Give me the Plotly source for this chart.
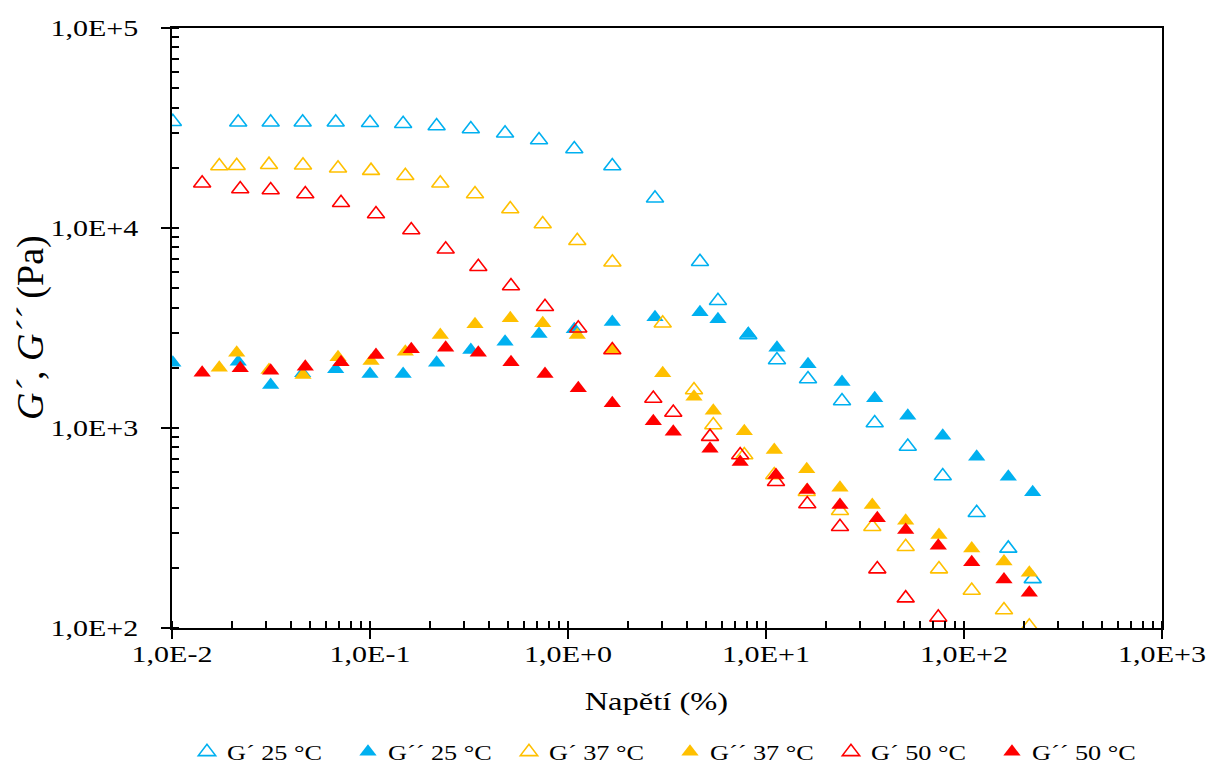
import plotly.graph_objects as go

# ---- data (strain %, modulus Pa) ----
strain_25 = [0.0101, 0.0216, 0.0315, 0.0457, 0.0671, 0.100, 0.147, 0.217, 0.323, 0.481,
             0.714, 1.076, 1.674, 2.75, 4.64, 5.72, 8.14, 11.36, 16.3, 24.2,
             35.4, 52.0, 78.1, 115.9, 167.4, 222.3]
g1_25 = [34000, 33780, 33780, 33780, 33780, 33610, 33230, 32360, 31260, 29760,
         27540, 24830, 20420, 14080, 6785, 4330, 2917, 2188, 1758, 1365,
         1059, 808, 575, 377, 250, 176]
g2_25 = [2121, 2146, 1641, 1880, 1966, 1862, 1862, 2121, 2455, 2701,
         2951, 3116, 3388, 3577, 3789, 3496, 2951, 2521, 2082, 1698,
         1408, 1152, 915, 719, 571, 477]

strain_37 = [0.01733, 0.02122, 0.0309, 0.04588, 0.06894, 0.1012, 0.1508, 0.2265, 0.3391, 0.5111,
             0.7452, 1.114, 1.676, 3.008, 4.329, 5.418, 7.771, 11.01, 16.06, 23.64,
             34.43, 50.76, 74.76, 109.4, 159.2, 213.7]
g1_37 = [20420, 20490, 20730, 20590, 19890, 19350, 18260, 16730, 14790, 12450,
         10470, 8640, 6739, 3338, 1549, 1035, 733, 582, 480, 386,
         321, 255, 197, 154, 123, 102]
g2_37 = [2002, 2380, 1950, 1841, 2257, 2163, 2407, 2917, 3300, 3536,
         3338, 2917, 2455, 1877, 1434, 1220, 963, 776, 622, 503,
         412, 344, 292, 250, 215, 189]

strain_50 = [0.0142, 0.02211, 0.03151, 0.04712, 0.07138, 0.1072, 0.1616, 0.2411, 0.3524, 0.5153,
             0.7652, 1.127, 1.674, 2.697, 3.402, 5.214, 7.407, 11.23, 16.16, 23.64,
             36.49, 50.76, 74.16, 109.4, 159.2, 213.7]
g1_50 = [16730, 15670, 15490, 14790, 13380, 11750, 9772, 7827, 6404, 5129,
         4041, 3152, 2455, 1404, 1195, 905, 733, 539, 417, 321,
         197, 141, 113, None, None, None]
g2_50 = [1890, 1988, 1934, 2025, 2131, 2317, 2475, 2521, 2380, 2131,
         1862, 1579, 1329, 1080, 958, 788, 676, 582, 490, 412,
         354, 309, 258, 213, 175, 150]

x_tickvals = [0.01, 0.1, 1, 10, 100, 1000]
x_ticktext = ["1,0E-2", "1,0E-1", "1,0E+0", "1,0E+1", "1,0E+2", "1,0E+3"]
y_tickvals = [100, 1000, 10000, 100000]
y_ticktext = ["1,0E+2", "1,0E+3", "1,0E+4", "1,0E+5"]

x_title = "Napětí (%)"
y_title = "<i>G´</i>, <i>G´´</i> (Pa)"

BLUE = "#00B0F0"
YELLOW = "#FFC000"
RED = "#FF0000"
FONT = "Liberation Serif"

series = [
    ("G´ 25 °C", strain_25, g1_25, BLUE, True),
    ("G´´ 25 °C", strain_25, g2_25, BLUE, False),
    ("G´ 37 °C", strain_37, g1_37, YELLOW, True),
    ("G´´ 37 °C", strain_37, g2_37, YELLOW, False),
    ("G´ 50 °C", strain_50, g1_50, RED, True),
    ("G´´ 50 °C", strain_50, g2_50, RED, False),
]

fig = go.Figure()
for name, xs, ys, col, is_open in series:
    fig.add_trace(go.Scatter(
        x=xs, y=ys, mode="markers", name=name,
        marker=dict(symbol="triangle-up-open" if is_open else "triangle-up",
                    size=15, color=col, line=dict(color=col, width=1.6 if is_open else 0)),
    ))

# invisible trace for overlay axes (inside halves of the major ticks)
fig.add_trace(go.Scatter(x=[0.01], y=[100], xaxis="x2", yaxis="y2", mode="markers",
                         marker=dict(opacity=0), showlegend=False, hoverinfo="skip"))

axis_common = dict(type="log", showgrid=False, zeroline=False, showline=True,
                   linecolor="black", linewidth=2, mirror=True, automargin=False,
                   ticks="outside", ticklen=9, tickwidth=2, tickcolor="black",
                   tickfont=dict(family=FONT, size=24, color="black"))

fig.update_layout(
    width=1210, height=769,
    paper_bgcolor="white", plot_bgcolor="white",
    margin=dict(l=172, r=48, t=28, b=141, autoexpand=False),
    font=dict(family=FONT, color="black"),
    xaxis=dict(**axis_common, range=[-2, 3], tickvals=x_tickvals, ticktext=x_ticktext,
               ticklabelstandoff=-6,
               minor=dict(ticks="inside", ticklen=7, tickwidth=1.5, tickcolor="black", dtick="D1")),
    yaxis=dict(**axis_common, range=[2, 5], tickvals=y_tickvals, ticktext=y_ticktext,
               ticklabelstandoff=18,
               minor=dict(ticks="inside", ticklen=7, tickwidth=1.5, tickcolor="black", dtick="D1")),
    xaxis2=dict(type="log", range=[-2, 3], overlaying="x", anchor="y", side="bottom",
                showgrid=False, zeroline=False, showline=False, tickvals=x_tickvals,
                showticklabels=False, ticks="inside", ticklen=7, tickwidth=2, tickcolor="black"),
    yaxis2=dict(type="log", range=[2, 5], overlaying="y", anchor="x", side="left",
                showgrid=False, zeroline=False, showline=False, tickvals=y_tickvals,
                showticklabels=False, ticks="inside", ticklen=7, tickwidth=2, tickcolor="black"),
    legend=dict(orientation="h", x=0.503, xanchor="center", y=-0.207, yanchor="middle",
                font=dict(family=FONT, size=21, color="black"), itemwidth=30,
                entrywidth=116, entrywidthmode="pixels", bgcolor="rgba(0,0,0,0)"),
    annotations=[
        dict(text=x_title, xref="paper", yref="paper", x=0.489, y=-0.123,
             xanchor="center", yanchor="middle", showarrow=False,
             font=dict(family=FONT, size=26, color="black")),
        dict(text=y_title, xref="paper", yref="paper", x=-0.1434, y=0.5,
             xanchor="center", yanchor="middle", showarrow=False, textangle=-90,
             font=dict(family=FONT, size=38, color="black")),
    ],
    showlegend=True,
)

# remove page margin and widen horizontal texts (the reference typeface is set wide)
post_js = """
document.documentElement.style.margin = '0';
document.body.style.margin = '0';
document.body.style.padding = '0';
document.body.style.overflow = 'hidden';
var gd = document.getElementById('{plot_id}');
function widen(){
  var list = Array.prototype.slice.call(gd.querySelectorAll('g.xtick text, g.ytick text, text.legendtext'));
  var ann = gd.querySelectorAll('text.annotation-text');
  if (ann.length) list.push(ann[0]);
  list.forEach(function(t){
    var L0 = t.getAttribute('data-l0');
    if (!L0) { L0 = t.getComputedTextLength(); t.setAttribute('data-l0', L0); }
    t.setAttribute('textLength', (parseFloat(L0) * 1.25).toFixed(1));
    t.setAttribute('lengthAdjust', 'spacingAndGlyphs');
  });
}
widen();
setTimeout(widen, 50);
"""

fig.write_html("out.html", post_script=post_js, config={"displayModeBar": False})
